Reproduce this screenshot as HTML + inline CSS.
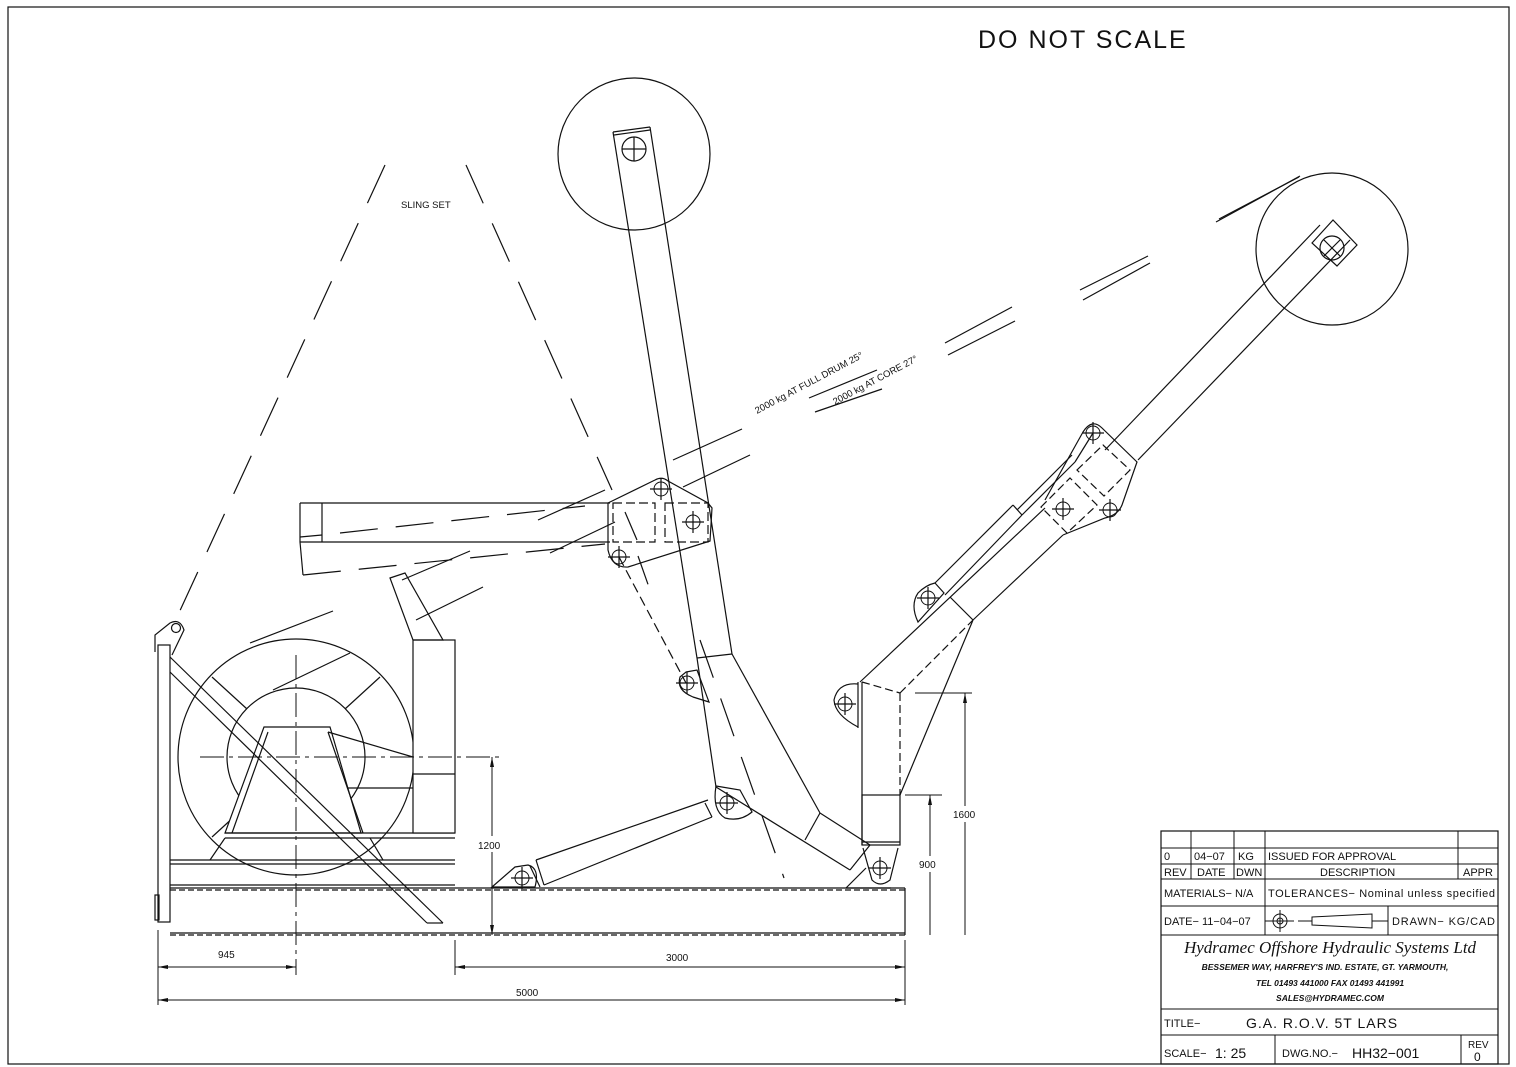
<!DOCTYPE html>
<html><head><meta charset="utf-8"><style>
html,body{margin:0;padding:0;background:#fff}
svg{display:block}
text{font-family:"Liberation Sans",sans-serif;fill:#111}
</style></head><body>
<svg width="1516" height="1067" viewBox="0 0 1516 1067" xmlns="http://www.w3.org/2000/svg">
<defs>
<g id="hole"><circle r="7" fill="none" stroke="#111" stroke-width="1"/><line x1="-11" y1="0" x2="11" y2="0" stroke="#111"/><line x1="0" y1="-11" x2="0" y2="11" stroke="#111"/></g>
</defs>
<g fill="none" stroke="#111" stroke-width="1.2">
<rect x="8" y="7" width="1501" height="1057"/>

<g stroke-dasharray="42 22">
<line x1="385" y1="165" x2="172" y2="628"/>
<line x1="466" y1="165" x2="612" y2="490"/>
</g>

<circle cx="634" cy="154" r="76"/>
<line x1="613" y1="132" x2="697" y2="658"/>
<line x1="650" y1="127" x2="732" y2="654"/>
<line x1="613" y1="132" x2="650" y2="127"/>
<line x1="614" y1="135" x2="650" y2="130"/>
<circle cx="634" cy="149" r="12"/>
<line x1="622" y1="149" x2="646" y2="149"/><line x1="634" y1="137" x2="634" y2="161"/>
<line x1="697" y1="658" x2="732" y2="654"/>
<line x1="697" y1="658" x2="716" y2="787"/>
<line x1="732" y1="654" x2="820" y2="813"/>
<line x1="820" y1="813" x2="870" y2="845"/>
<line x1="716" y1="787" x2="850" y2="870"/>
<line x1="805" y1="840" x2="820" y2="813"/>
<line x1="850" y1="870" x2="870" y2="845"/>
<path d="M716,786 L740,790 L752,812 Q740,822 725,818 Q712,810 716,786Z"/>
<use href="#hole" x="727" y="803"/>
<line x1="700" y1="640" x2="784" y2="878" stroke-dasharray="40 22"/>

<line x1="300" y1="503" x2="610" y2="503"/>
<line x1="300" y1="542" x2="610" y2="542"/>
<line x1="300" y1="503" x2="300" y2="542"/>
<line x1="322" y1="503" x2="322" y2="542"/>
<line x1="300" y1="537" x2="322" y2="535"/>
<line x1="300" y1="542" x2="303" y2="575"/>
<g stroke-dasharray="38 18">
<line x1="303" y1="575" x2="605" y2="544"/>
<line x1="340" y1="533" x2="585" y2="506"/>
</g>
<path d="M608,503 L655,480 Q662,476 668,481 L708,503 L712,508 L710,541 L628,567 Q612,568 608,550 Z"/>
<g stroke-dasharray="9 4">
<rect x="613" y="503" width="42" height="39"/>
<rect x="665" y="503" width="43" height="39"/>
</g>
<use href="#hole" x="661" y="489"/>
<use href="#hole" x="693" y="522"/>
<use href="#hole" x="619" y="557"/>
<line x1="619" y1="557" x2="686" y2="683" stroke-dasharray="10 5"/>
<line x1="625" y1="512" x2="637" y2="540"/>
<line x1="638" y1="556" x2="650" y2="590" stroke-dasharray="30 20"/>
<path d="M686,672 L697,670 L709,702 L693,697 Q676,690 680,677Z"/>
<use href="#hole" x="687" y="683"/>

<line x1="673" y1="460" x2="742" y2="429"/>
<line x1="683" y1="487" x2="750" y2="455"/>
<line x1="538" y1="520" x2="605" y2="490"/>
<line x1="550" y1="553" x2="615" y2="522"/>
<line x1="402" y1="580" x2="470" y2="551"/>
<line x1="416" y1="620" x2="483" y2="587"/>
<line x1="250" y1="643" x2="333" y2="611"/>
<line x1="273" y1="690" x2="350" y2="653"/>
<line x1="809" y1="398" x2="877" y2="370"/>
<line x1="815" y1="412" x2="882" y2="389"/>
<line x1="945" y1="343" x2="1012" y2="307"/>
<line x1="948" y1="355" x2="1015" y2="321"/>
<line x1="1080" y1="290" x2="1148" y2="256"/>
<line x1="1083" y1="300" x2="1150" y2="263"/>
<line x1="1216" y1="222" x2="1300" y2="176"/>
<line x1="1219" y1="219" x2="1299" y2="177"/>

<circle cx="1332" cy="249" r="76"/>
<line x1="1105" y1="450" x2="1320" y2="225"/>
<line x1="1138" y1="460" x2="1350" y2="240"/>
<polygon points="1312,243 1333,220 1357,245 1337,266"/>
<circle cx="1332" cy="248" r="12"/>
<line x1="1324" y1="240" x2="1340" y2="256"/><line x1="1340" y1="240" x2="1324" y2="256"/>
<path d="M1045,500 L1083,432 Q1092,418 1102,428 L1137,462 L1122,505 Q1118,515 1105,518 L1063,535"/>
<g stroke-dasharray="8 4">
<polygon points="1077,470 1103,445 1130,470 1104,496"/>
<polygon points="1041,507 1070,478 1097,505 1067,533"/>
</g>
<use href="#hole" x="1093" y="433"/>
<use href="#hole" x="1063" y="509"/>
<use href="#hole" x="1110" y="510"/>
<line x1="860" y1="682" x2="1045" y2="508"/>
<line x1="973" y1="620" x2="1063" y2="535"/>
<line x1="950" y1="597" x2="973" y2="620"/>
<line x1="973" y1="620" x2="900" y2="795"/>
<line x1="862" y1="682" x2="900" y2="693" stroke-dasharray="8 4"/>
<line x1="900" y1="693" x2="973" y2="620" stroke-dasharray="8 4"/>
<line x1="935" y1="583" x2="1013" y2="505"/>
<line x1="945" y1="595" x2="1022" y2="515"/>
<line x1="1013" y1="505" x2="1022" y2="515"/>
<line x1="1017" y1="510" x2="1072" y2="455"/>
<line x1="1022" y1="515" x2="1075" y2="462"/>
<line x1="1075" y1="462" x2="1093" y2="433"/>
<path d="M935,583 L944,593 L918,622 Q910,605 918,593 Q926,585 935,583Z"/>
<use href="#hole" x="928" y="598"/>
<line x1="862" y1="682" x2="862" y2="845"/>
<line x1="858" y1="682" x2="858" y2="728"/>
<line x1="900" y1="693" x2="900" y2="795" stroke-dasharray="8 4"/>
<rect x="862" y="795" width="38" height="50"/>
<line x1="862" y1="842" x2="900" y2="842"/>
<path d="M858,684 Q838,682 834,700 Q835,715 858,727"/>
<use href="#hole" x="845" y="704"/>
<path d="M863,848 L872,880 Q880,888 890,880 L898,848"/>
<use href="#hole" x="880" y="868"/>
<line x1="846" y1="888" x2="866" y2="868"/>
<line x1="846" y1="888" x2="891" y2="888"/>

<path d="M492,887 L515,867 L528,865 Q540,868 535,887 Z"/>
<use href="#hole" x="522" y="878"/>
<line x1="530" y1="866" x2="540" y2="887"/>
<line x1="536" y1="860" x2="708" y2="800"/>
<line x1="544" y1="885" x2="712" y2="817"/>
<line x1="536" y1="860" x2="544" y2="885"/>
<line x1="705" y1="803" x2="712" y2="817"/>

<line x1="170" y1="890" x2="905" y2="890" stroke-dasharray="6 3"/>
<line x1="170" y1="935" x2="905" y2="935" stroke-dasharray="6 3"/>
<line x1="170" y1="888" x2="905" y2="888"/>
<line x1="170" y1="933" x2="905" y2="933"/>
<line x1="905" y1="888" x2="905" y2="935"/>
<line x1="170" y1="860" x2="455" y2="860"/>
<line x1="170" y1="864" x2="455" y2="864"/>
<line x1="170" y1="885" x2="455" y2="885"/>
<rect x="158" y="645" width="12" height="277"/>
<rect x="155" y="895" width="4" height="25"/>
<path d="M155,652 L155,635 L170,623 Q180,618 184,630 L172,655"/>
<circle cx="176" cy="628" r="4.5"/>
<circle cx="296" cy="757" r="118"/>
<circle cx="296" cy="757" r="69"/>
<circle cx="296" cy="757" r="16.5"/>
<line x1="212" y1="677" x2="247" y2="709"/>
<line x1="380" y1="677" x2="345" y2="709"/>
<line x1="212" y1="837" x2="247" y2="805"/>
<polygon points="264,727 330,727 361,833 225,833" fill="#fff"/>
<line x1="268" y1="732" x2="232" y2="833"/>
<line x1="328" y1="732" x2="363" y2="833"/>
<line x1="225" y1="833" x2="455" y2="833"/>
<line x1="225" y1="838" x2="455" y2="838"/>
<line x1="225" y1="838" x2="210" y2="860"/>
<line x1="370" y1="838" x2="383" y2="860"/>
<line x1="328" y1="732" x2="413" y2="757"/>
<line x1="347" y1="788" x2="413" y2="788"/>
<line x1="170" y1="657" x2="443" y2="923"/>
<line x1="170" y1="672" x2="427" y2="923"/>
<line x1="427" y1="923" x2="443" y2="923"/>
<rect x="413" y="640" width="42" height="193" fill="#fff"/>
<line x1="413" y1="774" x2="455" y2="774"/>
<polygon points="390,578 405,573 443,640 413,640"/>
<line x1="200" y1="757" x2="502" y2="757" stroke-width="1" stroke-dasharray="24 5 4 5"/>
<line x1="296" y1="655" x2="296" y2="975" stroke-width="1" stroke-dasharray="24 5 4 5"/>

<g stroke-width="1">
<line x1="158" y1="930" x2="158" y2="1005"/>
<line x1="455" y1="940" x2="455" y2="975"/>
<line x1="905" y1="940" x2="905" y2="1005"/>
<line x1="158" y1="967" x2="296" y2="967"/>
<line x1="455" y1="967" x2="905" y2="967"/>
<line x1="158" y1="1000" x2="905" y2="1000"/>
<line x1="492" y1="757" x2="492" y2="935"/>
<line x1="930" y1="795" x2="930" y2="935"/>
<line x1="965" y1="693" x2="965" y2="935"/>
<line x1="905" y1="795" x2="942" y2="795"/>
<line x1="915" y1="693" x2="972" y2="693"/>
</g>
<g fill="#fff" stroke="none">
<rect x="476" y="836" width="30" height="16"/>
<rect x="918" y="856" width="22" height="16"/>
<rect x="952" y="806" width="26" height="16"/>
</g>
<g fill="#111" stroke="none">
<polygon points="158,967 168,965 168,969"/><polygon points="296,967 286,965 286,969"/>
<polygon points="455,967 465,965 465,969"/><polygon points="905,967 895,965 895,969"/>
<polygon points="158,1000 168,998 168,1002"/><polygon points="905,1000 895,998 895,1002"/>
<polygon points="492,757 490,767 494,767"/><polygon points="492,935 490,925 494,925"/>
<polygon points="930,795 928,805 932,805"/><polygon points="965,693 963,703 967,703"/>
</g>

<rect x="1161" y="831" width="337" height="233"/>
<g stroke-width="1">
<line x1="1161" y1="848" x2="1498" y2="848"/>
<line x1="1161" y1="864" x2="1498" y2="864"/>
<line x1="1161" y1="879" x2="1498" y2="879"/>
<line x1="1161" y1="906" x2="1498" y2="906"/>
<line x1="1161" y1="935" x2="1498" y2="935"/>
<line x1="1161" y1="1009" x2="1498" y2="1009"/>
<line x1="1161" y1="1035" x2="1498" y2="1035"/>
<line x1="1191" y1="831" x2="1191" y2="879"/>
<line x1="1234" y1="831" x2="1234" y2="879"/>
<line x1="1265" y1="831" x2="1265" y2="935"/>
<line x1="1458" y1="831" x2="1458" y2="879"/>
<line x1="1388" y1="906" x2="1388" y2="935"/>
<line x1="1275" y1="1035" x2="1275" y2="1064"/>
<line x1="1461" y1="1035" x2="1461" y2="1064"/>
<circle cx="1280" cy="921" r="7"/><circle cx="1280" cy="921" r="3"/>
<line x1="1265" y1="921" x2="1294" y2="921"/><line x1="1280" y1="910" x2="1280" y2="932"/>
<line x1="1298" y1="921" x2="1312" y2="921"/>
<polygon points="1312,917 1372,914 1372,928 1312,925"/>
<line x1="1372" y1="921" x2="1388" y2="921"/>
</g>
</g>

<text x="978" y="48" font-size="25" letter-spacing="2">DO NOT SCALE</text>
<text x="401" y="208" font-size="9.5">SLING SET</text>
<text x="0" y="0" font-size="9.5" transform="translate(757,414) rotate(-28)">2000 kg AT FULL DRUM 25°</text>
<text x="0" y="0" font-size="9.5" transform="translate(835,405) rotate(-28)">2000 kg AT CORE 27°</text>
<text x="218" y="958" font-size="10">945</text>
<text x="666" y="961" font-size="10">3000</text>
<text x="516" y="996" font-size="10">5000</text>
<text x="478" y="849" font-size="10">1200</text>
<text x="919" y="868" font-size="10">900</text>
<text x="953" y="818" font-size="10">1600</text>

<g font-size="11">
<text x="1164" y="860">0</text>
<text x="1194" y="860">04−07</text>
<text x="1238" y="860">KG</text>
<text x="1268" y="860">ISSUED FOR APPROVAL</text>
<text x="1164" y="876">REV</text>
<text x="1197" y="876">DATE</text>
<text x="1236" y="876">DWN</text>
<text x="1320" y="876">DESCRIPTION</text>
<text x="1463" y="876">APPR</text>
<text x="1164" y="897">MATERIALS− N/A</text>
<text x="1268" y="897" textLength="227">TOLERANCES− Nominal unless specified</text>
<text x="1164" y="925">DATE− 11−04−07</text>
<text x="1392" y="925" textLength="103">DRAWN− KG/CAD</text>
</g>
<text x="1330" y="953" font-size="17" text-anchor="middle" font-style="italic" style="font-family:'Liberation Serif',serif">Hydramec Offshore Hydraulic Systems Ltd</text>
<g font-size="8.5" font-weight="bold" font-style="italic" text-anchor="middle">
<text x="1325" y="970">BESSEMER WAY, HARFREY'S IND. ESTATE, GT. YARMOUTH,</text>
<text x="1330" y="986">TEL 01493 441000 FAX 01493 441991</text>
<text x="1330" y="1001">SALES@HYDRAMEC.COM</text>
</g>
<text x="1164" y="1027" font-size="11">TITLE−</text>
<text x="1246" y="1028" font-size="14" letter-spacing="1">G.A. R.O.V. 5T LARS</text>
<text x="1164" y="1057" font-size="11">SCALE−</text>
<text x="1215" y="1058" font-size="14">1: 25</text>
<text x="1282" y="1057" font-size="11">DWG.NO.−</text>
<text x="1352" y="1058" font-size="14">HH32−001</text>
<text x="1468" y="1048" font-size="10">REV</text>
<text x="1474" y="1061" font-size="12">0</text>
</svg>
</body></html>
